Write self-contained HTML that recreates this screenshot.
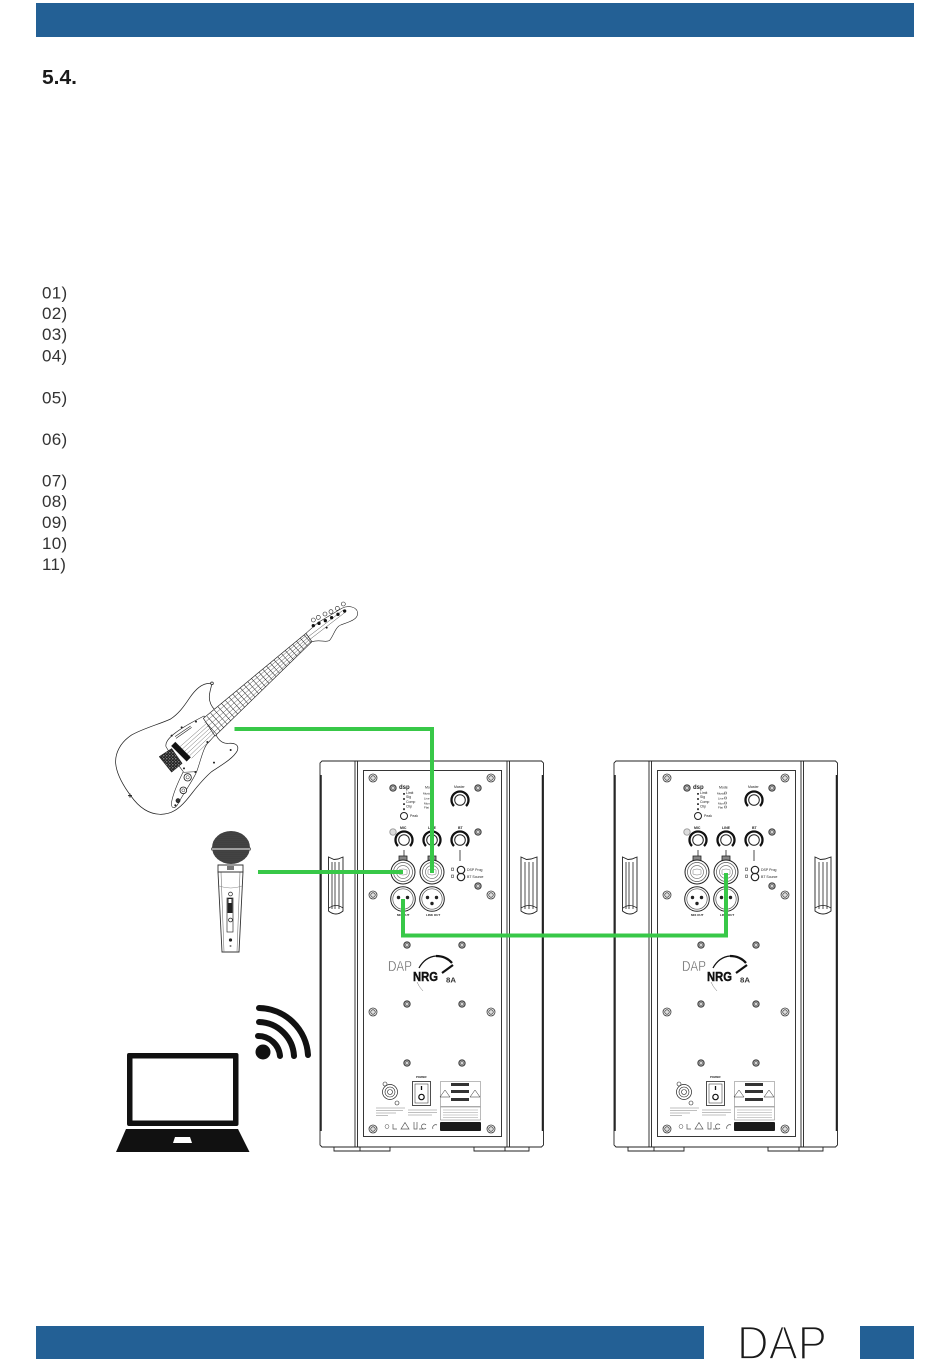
<!DOCTYPE html>
<html><head><meta charset="utf-8"><style>
html,body{margin:0;padding:0;background:#fff;width:950px;height:1369px;overflow:hidden}
svg{display:block}
text{font-family:"Liberation Sans",sans-serif}
</style></head><body>
<svg width="950" height="1369" viewBox="0 0 950 1369" xmlns="http://www.w3.org/2000/svg">
<defs>
<pattern id="mesh" width="2" height="2" patternUnits="userSpaceOnUse"><rect width="2" height="2" fill="#333"/><circle cx="1" cy="1" r=".42" fill="#aaa"/></pattern>
<pattern id="brg" width="9" height="9" patternUnits="userSpaceOnUse"><rect width="9" height="9" fill="#222"/><circle cx="2.500" cy="2.500" r="1.700" fill="#ddd"/><circle cx="7" cy="6.500" r="1.300" fill="#aaa"/></pattern>
<clipPath id="fb"><polygon points="310,385 618,130 636,155 345,438"/></clipPath>
<g id="sa"><circle r="4" fill="#fff" stroke="#333" stroke-width=".8"/><circle r="2.300" fill="#ddd" stroke="#444" stroke-width=".8"/></g>
<g id="sb"><circle r="3.200" fill="#999" stroke="#333" stroke-width=".9"/><circle r="1.300" fill="#eee" stroke="#444" stroke-width=".4"/></g>
<g id="knob"><circle r="5.300" fill="#fff" stroke="#222" stroke-width="1"/><path d="M-6,6A8.500,8.500 0 1 1 6,6" fill="none" stroke="#111" stroke-width="2.300"/></g>
<g id="xlr"><circle r="12.300" fill="#fff" stroke="#222" stroke-width="1"/><circle r="10.200" fill="none" stroke="#555" stroke-width=".7"/><circle cx="-4.500" cy="-1.500" r="1.200" fill="#222"/><circle cx="4.500" cy="-1.500" r="1.200" fill="#222"/><circle cx="0" cy="4.500" r="1.200" fill="#222"/></g>
<g id="combo"><rect x="-4" y="-16" width="8" height="6" fill="#888" stroke="#222" stroke-width=".8"/><circle r="12" fill="#fff" stroke="#222" stroke-width="1"/><circle r="9.500" fill="none" stroke="#555" stroke-width=".7"/><circle r="6.500" fill="none" stroke="#777" stroke-width=".7"/><path d="M-4,-2Q0,-4 4,-2V2Q0,4 -4,2Z" fill="none" stroke="#777" stroke-width=".5"/></g>
<g id="cab" fill="none" stroke="#222">
 <path d="M322,761H541.500L543.500,763V1145L541.500,1147H322L320,1145V763Z" fill="#fff" stroke-width=".9"/>
 <path d="M355,761V1147M357.500,761V1147M507,761V1147M509.500,761V1147" stroke-width=".9"/>
 <path d="M321,775V1131M542.500,775V1131" stroke-width="1.500"/>
 <rect x="363.500" y="770.500" width="138" height="366" stroke-width=".9"/>
 <path d="M334,1147V1151H360V1147M360,1151H390V1147M474,1147V1151H505V1147M505,1151H529V1147" stroke-width=".9"/>
 <path d="M328.500,857L334,859.500L338,859L343,857V911Q336,917 328.500,911Z" fill="#fff" stroke-width=".9"/>
 <path d="M332,862V909M335,862V909M339,862V909M329,908Q336,903 343,908" stroke-width=".8"/>
 <path d="M521,857L526.500,859.500L531,859L537,857V911Q529,917 521,911Z" fill="#fff" stroke-width=".9"/>
 <path d="M525,862V909M529,862V909M533,862V909M521,908Q529,903 537,908" stroke-width=".8"/>
 <use href="#sa" x="373" y="778"/><use href="#sa" x="491" y="778"/>
 <use href="#sb" x="393" y="788"/><use href="#sb" x="478" y="788"/>
 <circle cx="393" cy="832" r="3.200" fill="#ddd" stroke="#999" stroke-width=".9"/><use href="#sb" x="478" y="832"/><use href="#sb" x="478" y="886"/>
 <use href="#sa" x="373" y="895"/><use href="#sa" x="491" y="895"/>
 <use href="#sb" x="407" y="945"/><use href="#sb" x="462" y="945"/>
 <use href="#sa" x="373" y="1012"/><use href="#sa" x="491" y="1012"/>
 <use href="#sb" x="407" y="1004"/><use href="#sb" x="462" y="1004"/>
 <use href="#sb" x="407" y="1063"/><use href="#sb" x="462" y="1063"/>
 <use href="#sa" x="373" y="1129"/><use href="#sa" x="491" y="1129"/>
 <use href="#knob" x="460" y="800"/><use href="#knob" x="404" y="840"/><use href="#knob" x="432" y="840"/><use href="#knob" x="460" y="840"/>
 <path d="M404,850V856M432,850V856M460,850V861" stroke-width=".8"/>
 <use href="#combo" x="403" y="872"/><use href="#combo" x="432" y="872"/>
 <use href="#xlr" x="403" y="899"/><use href="#xlr" x="432" y="899"/>
 <circle cx="461" cy="870" r="3.700" stroke-width="1.200"/><circle cx="461" cy="877" r="3.700" stroke-width="1.200"/>
 <rect x="451.500" y="868" width="2" height="2.500" stroke-width=".5"/><rect x="451.500" y="875" width="2" height="2.500" stroke-width=".5"/>
 <circle cx="404" cy="816" r="3.500" stroke-width="1"/>
 <path d="M404,793V812" stroke-width="1.700" stroke-dasharray="1.800 3.300"/>
 <path d="M430.500,792h2v2h-2zM430.500,797h2v2h-2zM430.500,802h2v2h-2zM430.500,806h2v2h-2z" stroke-width=".4"/>
 <path d="M419,968Q425,957 436,956" stroke-width="1.300" stroke="#111"/>
 <path d="M436,956Q446,956 452,963" stroke-width="2.300" stroke="#111"/>
 <path d="M442,973L453,965" stroke-width="2.200" stroke="#111"/>
 <path d="M417,982Q419,987 423,991" stroke-width=".5" stroke="#777"/>
 <circle cx="390" cy="1092" r="7.500" stroke-width=".7"/><circle cx="390" cy="1092" r="5" stroke-width=".6"/><circle cx="390" cy="1092" r="2.500" stroke-width=".6"/>
 <circle cx="385" cy="1084" r="2" stroke-width=".6"/><circle cx="397" cy="1103" r="2" stroke-width=".6"/>
 <rect x="412.500" y="1081.500" width="18" height="24" stroke-width=".8"/><rect x="415" y="1084" width="13" height="19" stroke-width=".5"/>
 <path d="M421.500,1086V1090" stroke-width="1.300" stroke="#111"/><circle cx="421.500" cy="1097" r="2.700" stroke-width="1.200" stroke="#111"/>
 <rect x="440.500" y="1081.500" width="40" height="25" stroke-width=".5" stroke="#777"/>
 <rect x="440.500" y="1107" width="40" height="13" stroke-width=".5" stroke="#777"/>
 <rect x="451" y="1083" width="18" height="3" fill="#333" stroke="none"/><rect x="451" y="1090" width="18" height="3" fill="#333" stroke="none"/><rect x="451" y="1098" width="18" height="3" fill="#333" stroke="none"/>
 <path d="M445,1090L450,1097H440Z" stroke-width=".5"/><path d="M475,1090L480,1097H470Z" stroke-width=".5"/>
 <path d="M443,1110H478M443,1112.500H478M443,1115H478M443,1117.500H478" stroke-width=".6" stroke="#999"/>
 <rect x="440" y="1122" width="41" height="9" rx="1" fill="#1a1a1a" stroke="none"/>
 <path d="M376,1108H405M376,1110.500H403M376,1113H396M376,1115.500H388M408,1110H437M408,1112.500H437M408,1115H432" stroke-width=".8" stroke="#aaa"/>
 <circle cx="387" cy="1126.500" r="2" stroke-width=".5" stroke="#555"/>
 <path d="M393,1124V1129H397M405,1122.500L409,1129H401ZM414,1122V1129H417V1122M419,1129H423M426,1125A2.500,2.500 0 1 0 426,1128M433,1129A3,3 0 0 1 437,1125" stroke-width=".7" stroke="#555"/>
</g>
</defs>

<rect x="36" y="3" width="878" height="34" fill="#236095"/>
<rect x="36" y="1326" width="668" height="33" fill="#236095"/>
<rect x="860" y="1326" width="54" height="33" fill="#236095"/>
<text x="737" y="1359" font-size="47" fill="#1a1a1a" stroke="#fff" stroke-width="1.800" textLength="90" lengthAdjust="spacingAndGlyphs">DAP</text>

<text x="42" y="84" font-size="20" font-weight="700" fill="#1a1a1a" textLength="35" lengthAdjust="spacingAndGlyphs">5.4.</text>
<g font-size="17" fill="#333" letter-spacing=".3">
<text x="42" y="298.500">01)</text><text x="42" y="319">02)</text><text x="42" y="340">03)</text><text x="42" y="361.500">04)</text>
<text x="42" y="403.500">05)</text><text x="42" y="445">06)</text><text x="42" y="486.500">07)</text><text x="42" y="507">08)</text><text x="42" y="528">09)</text><text x="42" y="549">10)</text><text x="42" y="570">11)</text>
</g>

<!-- guitar -->
<g transform="translate(100,590) scale(.3333)" fill="none" stroke="#222" stroke-width="2.200" stroke-linejoin="round">
 <path d="M335,280C305,278 285,300 268,325C250,352 235,372 212,387C180,402 130,415 95,435C60,458 45,490 47,520C50,555 72,590 92,617C115,650 145,672 180,673C215,674 238,655 258,632C280,606 300,575 335,545C365,525 400,505 412,482C418,465 405,458 385,460C365,462 350,445 345,425C345,400 345,375 345,360C330,345 325,325 330,305C332,295 335,288 335,280Z" fill="#fff"/>
 <path d="M280,395L312,378L350,430L325,458C310,470 300,520 290,545C280,570 250,610 235,640C225,658 212,658 215,635C222,600 240,565 250,545C235,525 215,500 198,470C193,450 225,425 280,395Z" fill="#fff" stroke-width="1.800"/>
 <path d="M290,545L250,547" stroke-width="1.500"/>
 <circle cx="263" cy="562" r="11" stroke-width="2.500" fill="#fff"/><circle cx="263" cy="562" r="5" stroke-width="1.500"/>
 <circle cx="250" cy="601" r="10" stroke-width="2.500" fill="#fff"/><circle cx="250" cy="601" r="4.500" stroke-width="1.500"/>
 <circle cx="234" cy="632" r="6" fill="#333"/>
 <path d="M240,470L622,135M247,477L625,138M254,484L628,142M261,491L631,146M268,498L634,150M275,505L636,153" stroke-width="1.100" stroke="#333"/>
 <polygon points="226,456 272,502 260,514 214,468" fill="#111" stroke="#111" stroke-width="1"/>
 <path d="M178,500L215,476L246,520L215,546Z" fill="url(#brg)" stroke-width="2"/>
 <path d="M225,440L272,408M228,445L275,412" stroke-width="1.800"/>
 <path d="M90,611L90,623M84,617H96" stroke-width="3"/><circle cx="336" cy="280" r="4" fill="#fff"/>
 <g fill="#222" stroke="none"><circle cx="215" cy="437" r="3"/><circle cx="245" cy="412" r="3"/><circle cx="322" cy="456" r="3"/><circle cx="392" cy="480" r="3"/><circle cx="342" cy="518" r="3"/><circle cx="288" cy="395" r="3"/><circle cx="252" cy="535" r="3"/><circle cx="286" cy="546" r="3"/><circle cx="226" cy="646" r="3"/></g>
 <polygon points="310,385 618,130 636,155 345,438" fill="#fff" stroke-width="2"/>
 <line x1="330" y1="412" x2="627" y2="143" stroke="#222" stroke-width="60" stroke-dasharray="1.600 13" clip-path="url(#fb)"/>
 <path d="M314,398L620,135M322,410L626,141M330,420L630,147M338,430L634,153" stroke-width="1.300" stroke="#333"/>
 <path d="M618,130L655,97L725,55C745,45 770,50 773,68C775,88 750,95 722,105C705,112 700,140 688,152C675,158 660,148 636,155Z" fill="#fff" stroke-width="1.800"/>
 <path d="M630,148L738,65M625,140L730,60" stroke-width="1.200"/>
 <g stroke-width="1.800" fill="#fff"><circle cx="640" cy="90" r="6"/><circle cx="655" cy="82" r="6"/><circle cx="675" cy="72" r="6"/><circle cx="693" cy="65" r="6"/><circle cx="712" cy="55" r="6"/><circle cx="730" cy="42" r="6"/></g>
 <g fill="#111" stroke="none"><circle cx="640" cy="107" r="5"/><circle cx="657" cy="100" r="5"/><circle cx="676" cy="92" r="5"/><circle cx="695" cy="83" r="5"/><circle cx="714" cy="73" r="5"/><circle cx="734" cy="63" r="5"/><circle cx="680" cy="113" r="3"/></g>
</g>

<!-- microphone -->
<path d="M218,872L222,952H239L243,872Z" fill="#fff" stroke="#333" stroke-width=".9"/>
<path d="M221,872L224,952M240,872L237,952" stroke="#777" stroke-width=".6" fill="none"/>
<path d="M218,865H243V872H218Z" fill="#fff" stroke="#333" stroke-width=".9"/>
<rect x="227" y="866" width="7" height="4" fill="#777"/>
<path d="M219,886Q231,890 242,886" fill="none" stroke="#888" stroke-width=".5"/>
<ellipse cx="231" cy="847.500" rx="19" ry="16.500" fill="url(#mesh)"/>
<rect x="211.500" y="848" width="39" height="2" fill="#ccc" stroke="#333" stroke-width=".6"/>
<rect x="227" y="898" width="6" height="34" fill="#fff" stroke="#333" stroke-width=".7"/>
<rect x="227.500" y="898" width="5" height="15" fill="#222"/><rect x="228.500" y="899" width="3" height="4" fill="#fff"/>
<circle cx="230.500" cy="894" r="1.900" fill="#fff" stroke="#222" stroke-width=".7"/><circle cx="230.500" cy="920" r="1.900" fill="#fff" stroke="#222" stroke-width=".8"/>
<circle cx="230.500" cy="940" r="1.600" fill="#222"/><circle cx="230.500" cy="946" r="1" fill="#777"/>

<!-- wifi -->
<circle cx="263" cy="1052" r="7.500" fill="#111"/>
<g fill="none" stroke="#111" stroke-width="6" stroke-linecap="round">
<path d="M258,1036A22,22 0 0 1 280,1056"/>
<path d="M259,1022A36,36 0 0 1 294,1056"/>
<path d="M259,1008A50,50 0 0 1 308,1055"/>
</g>

<!-- laptop -->
<rect x="127" y="1053" width="111.500" height="73" rx="2" fill="#111"/>
<rect x="132.500" y="1058.500" width="100.500" height="62" fill="#fff"/>
<polygon points="126,1129 238,1129 249.500,1152 116,1152" fill="#111"/>
<polygon points="175,1137 190,1137 192,1143 173,1143" fill="#fff"/>

<!-- speakers -->
<use href="#cab"/>
<use href="#cab" x="294"/>
<g>
<g fill="#222" font-size="3.500">
<text x="399" y="789" font-size="6" font-weight="700">dsp</text>
<text x="425" y="788.500" font-size="3.500">Mode</text>
<text x="423" y="794.500" font-size="3">Music</text><text x="424" y="799.500" font-size="3">Live</text><text x="424" y="804.500" font-size="3">Mon</text><text x="424" y="808.500" font-size="3">Flat</text>
<text x="454" y="788">Master</text>
<text x="406" y="794">Limit</text><text x="406" y="798">Sig</text><text x="406" y="803">Comp</text><text x="406" y="807.500">Clip</text><text x="410" y="817">Peak</text>
<text x="400" y="829" font-weight="700">MIC</text><text x="428" y="829" font-weight="700">LINE</text><text x="458" y="829" font-weight="700">BT</text>
<text x="397" y="916" font-size="3" font-weight="700">MIX OUT</text><text x="426" y="916" font-size="3" font-weight="700">LINK OUT</text>
<text x="467" y="871">DSP Prog</text><text x="467" y="878">BT Source</text>
<text x="416" y="1078" font-size="2.800" font-weight="700">POWER</text>
</g>
<text x="388" y="971" font-size="15" fill="#555" stroke="#fff" stroke-width=".4" textLength="24" lengthAdjust="spacingAndGlyphs">DAP</text>
<text x="413" y="981" font-size="12.500" font-weight="700" fill="#111" stroke="#111" stroke-width=".4" textLength="25" lengthAdjust="spacingAndGlyphs">NRG</text>
<text x="446" y="982.500" font-size="7" font-weight="700" fill="#333" textLength="10" lengthAdjust="spacingAndGlyphs">8A</text>
</g>
<g transform="translate(294,0)">
<g fill="#222" font-size="3.500">
<text x="399" y="789" font-size="6" font-weight="700">dsp</text>
<text x="425" y="788.500" font-size="3.500">Mode</text>
<text x="423" y="794.500" font-size="3">Music</text><text x="424" y="799.500" font-size="3">Live</text><text x="424" y="804.500" font-size="3">Mon</text><text x="424" y="808.500" font-size="3">Flat</text>
<text x="454" y="788">Master</text>
<text x="406" y="794">Limit</text><text x="406" y="798">Sig</text><text x="406" y="803">Comp</text><text x="406" y="807.500">Clip</text><text x="410" y="817">Peak</text>
<text x="400" y="829" font-weight="700">MIC</text><text x="428" y="829" font-weight="700">LINE</text><text x="458" y="829" font-weight="700">BT</text>
<text x="397" y="916" font-size="3" font-weight="700">MIX OUT</text><text x="426" y="916" font-size="3" font-weight="700">LINK OUT</text>
<text x="467" y="871">DSP Prog</text><text x="467" y="878">BT Source</text>
<text x="416" y="1078" font-size="2.800" font-weight="700">POWER</text>
</g>
<text x="388" y="971" font-size="15" fill="#555" stroke="#fff" stroke-width=".4" textLength="24" lengthAdjust="spacingAndGlyphs">DAP</text>
<text x="413" y="981" font-size="12.500" font-weight="700" fill="#111" stroke="#111" stroke-width=".4" textLength="25" lengthAdjust="spacingAndGlyphs">NRG</text>
<text x="446" y="982.500" font-size="7" font-weight="700" fill="#333" textLength="10" lengthAdjust="spacingAndGlyphs">8A</text>
</g>

<!-- cables -->
<g fill="none" stroke="#38c848" stroke-width="4" stroke-linejoin="miter">
<path d="M234.500,729H432V873"/>
<path d="M258,872H403"/>
<path d="M403,899V935.500H726V873"/>
</g>
</svg>
</body></html>
